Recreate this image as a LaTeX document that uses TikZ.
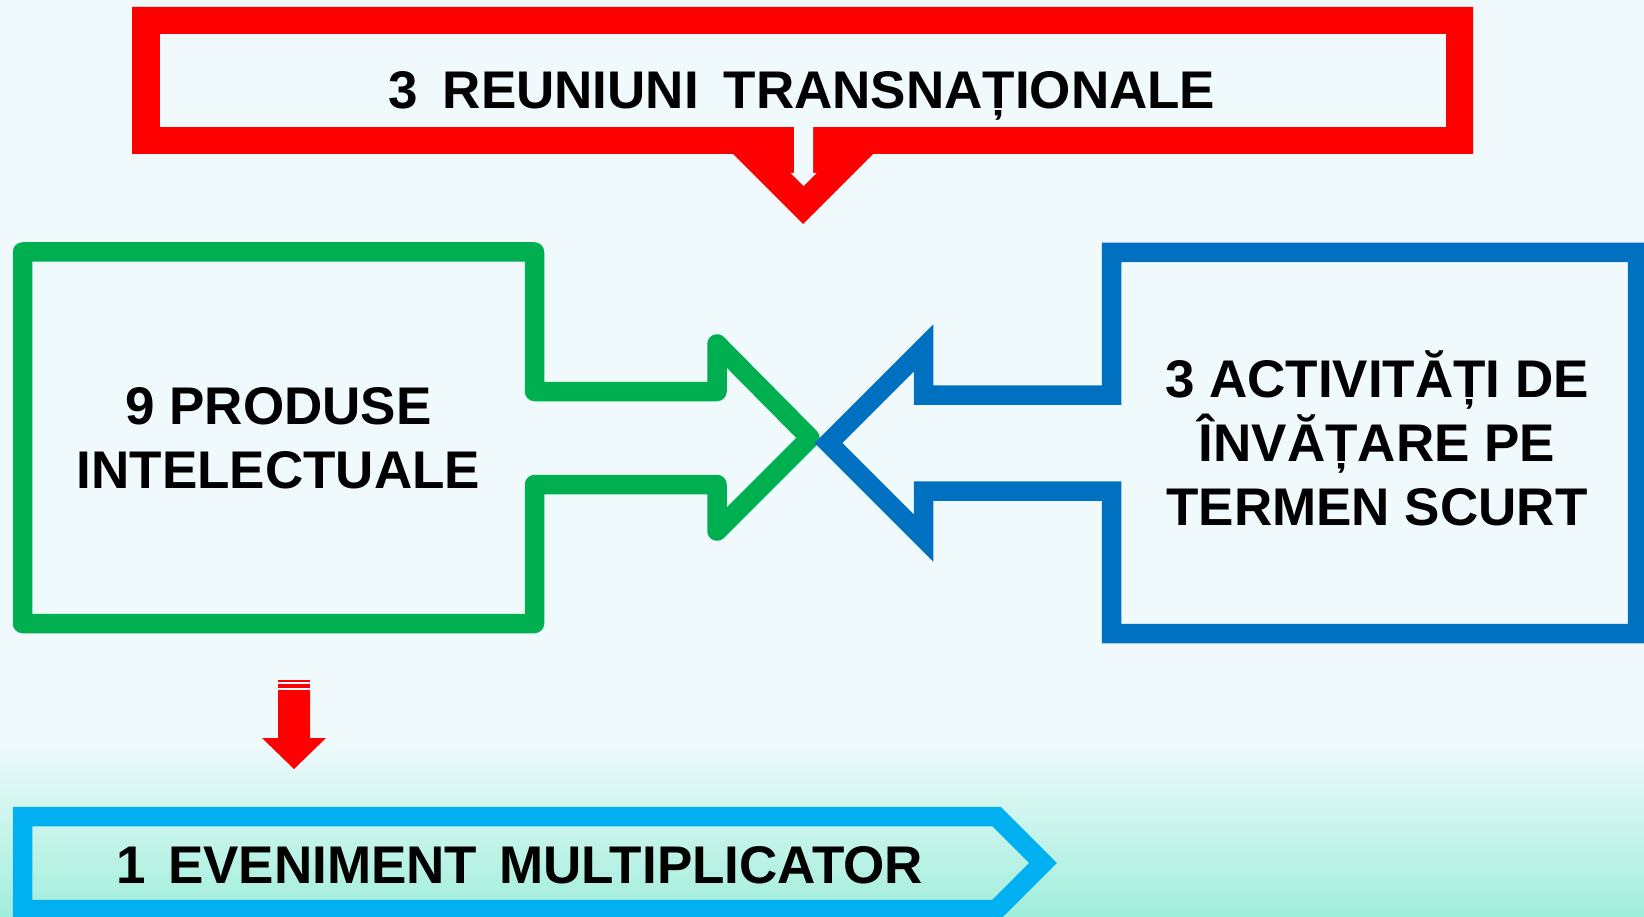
\documentclass[tikz,border=0pt]{standalone}
\usepackage{fontspec}
\setmainfont{Liberation Sans}
\usepackage{tikz}
\usepackage{xcolor}
\usetikzlibrary{positioning}

\definecolor{bgcolor}{HTML}{F0FAFC}
\definecolor{bgbottom}{HTML}{A0EEDB}
\definecolor{redframe}{HTML}{FF0000}
\definecolor{greenframe}{HTML}{00B050}
\definecolor{blueframe}{HTML}{0070C0}
\definecolor{cyanframe}{HTML}{00B0F0}

\begin{document}
\begin{tikzpicture}[x=1pt, y=-1pt,
                    label/.style={font=\fontsize{53}{64}\selectfont\bfseries, align=center, inner sep=0pt},
                    oneline/.style={label, text height=38pt, text depth=0pt},
                    frame/.style={line width=19.5pt}]
                    \useasboundingbox (0,0) rectangle (1644,917);
                    \fill[bgcolor] (0,0) rectangle (1644,917);
                    \shade[top color=bgcolor, bottom color=bgbottom] (0,740) rectangle (1644,917); % light sea-green at the bottom

                    % red callout on top
                    \fill[redframe] (132,7) -- (1473,7) -- (1473,154) -- (873,154) -- (803,224) -- (733,154) -- (132,154) -- cycle;
                    \fill[bgcolor] (160,34) rectangle (1446,127);
                    \fill[bgcolor] (794,126) -- (813,126) -- (813,173) -- (816.5,173) -- (803.5,186) -- (790.5,173) -- (794,173) -- cycle;
                    \node [oneline] (meetings) at (802,90) {3 \kern10pt REUNIUNI \kern10pt TRANSNAȚIONALE};

                    % green box with arrow
                    \draw[frame, greenframe, line join=round] (22.5,252) -- (534.5,252) -- (534.5,391.5) -- (717,391.5) -- (717,344) -- (810,438)
                        -- (717,531) -- (717,484.5) -- (534.5,484.5) -- (534.5,623.5) -- (22.5,623.5) -- cycle;
                    \node [label] (products) at (278.5,438.5) {9 PRODUSE\\INTELECTUALE};

                    % blue box with arrow
                    \draw[frame, blueframe, line join=miter] (1111.5,252.5) -- (1637.5,252.5) -- (1637.5,633.5) -- (1111.5,633.5) -- (1111.5,491)
                        -- (923.5,491) -- (923.5,538) -- (828.5,443) -- (923.5,348) -- (923.5,395) -- (1111.5,395) -- cycle;
                    \node [label] (activities) at (1377,438) {3 ACTIVITĂȚI DE\\ÎNVĂȚARE PE\\TERMEN SCURT};

                    % red striped arrow down
                    \fill[redframe] (278,680) rectangle (310,682);
                    \fill[redframe] (278,684) rectangle (310,688);
                    \fill[redframe] (278,690) -- (310,690) -- (310,738) -- (326,738) -- (294,769) -- (262,738) -- (278,738) -- cycle;

                    % cyan pentagon at the bottom
                    \draw[frame, cyanframe, line join=miter] (22.5,816.5) -- (996.5,816.5) -- (1043,863) -- (996.5,909.5) -- (22.5,909.5) -- cycle;
                    \node [oneline] (event) at (520,864) {1 \kern7pt EVENIMENT \kern7pt MULTIPLICATOR};
                \end{tikzpicture}
\end{document}
